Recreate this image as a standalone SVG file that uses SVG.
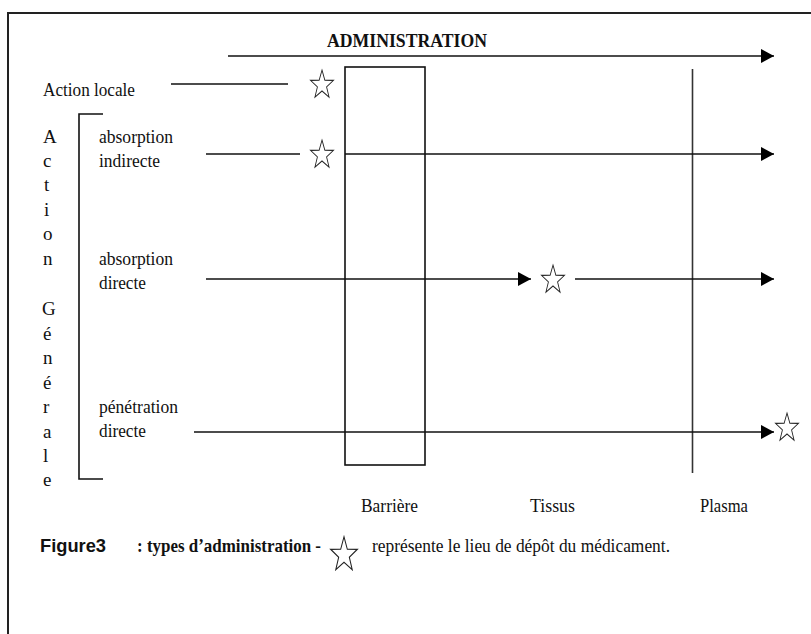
<svg xmlns="http://www.w3.org/2000/svg" width="811" height="634" viewBox="0 0 811 634">
<style>
.lbl{font-family:'Liberation Serif','Times New Roman','DejaVu Serif',serif;font-size:19px;fill:#111}
.bold{font-weight:bold}
.fig{font-family:'Liberation Sans',Arial,sans-serif;font-size:18px;font-weight:bold;fill:#111}
.ln{stroke:#111;stroke-width:1.6;fill:none}
.star{fill:#fff;stroke:#222;stroke-width:1;stroke-linejoin:miter}
</style>
<defs>
<marker id="arr" markerUnits="userSpaceOnUse" viewBox="0 0 13 14" refX="13" refY="7" markerWidth="13" markerHeight="14" orient="auto">
<path d="M0,0 L13,7 L0,14 z" fill="#000"/>
</marker>
<polygon id="st" points="0,-14 3.292,-4.53 13.315,-4.326 5.326,1.73 8.229,11.326 0,5.6 -8.229,11.326 -5.326,1.73 -13.315,-4.326 -3.292,-4.53"/>
</defs>
<rect width="811" height="634" fill="#fff"/>
<rect id="frame" x="8" y="13" width="830" height="660" fill="none" stroke="#222" stroke-width="2"/>

<g id="title">
<text class="lbl bold" x="327" y="47" textLength="160" lengthAdjust="spacingAndGlyphs">ADMINISTRATION</text>
</g>

<g id="barriere">
<rect class="ln" x="345" y="67" width="80" height="398"/>
<text class="lbl" x="361" y="512" textLength="57" lengthAdjust="spacingAndGlyphs">Barrière</text>
</g>
<g id="tissus">
<text class="lbl" x="530" y="512" textLength="45" lengthAdjust="spacingAndGlyphs">Tissus</text>
</g>
<g id="plasma">
<line x1="692.5" y1="69" x2="692.5" y2="473" stroke="#333" stroke-width="1.6"/>
<text class="lbl" x="700" y="512" textLength="48" lengthAdjust="spacingAndGlyphs">Plasma</text>
</g>

<g id="action-locale">
<text class="lbl" x="43" y="96" textLength="92" lengthAdjust="spacingAndGlyphs">Action locale</text>
</g>

<g id="action-generale">
<path class="ln" d="M103,114 H79 V479 H103"/>
<text class="lbl" x="43" y="143">A</text>
<text class="lbl" x="43" y="167">c</text>
<text class="lbl" x="44" y="191">t</text>
<text class="lbl" x="44" y="216">i</text>
<text class="lbl" x="43" y="240">o</text>
<text class="lbl" x="43" y="265">n</text>
<text class="lbl" x="42" y="315">G</text>
<text class="lbl" x="43" y="340">é</text>
<text class="lbl" x="43" y="364">n</text>
<text class="lbl" x="43" y="389">é</text>
<text class="lbl" x="43" y="413">r</text>
<text class="lbl" x="43" y="438">a</text>
<text class="lbl" x="43" y="462">l</text>
<text class="lbl" x="43" y="486">e</text>
</g>

<g id="absorption-indirecte">
<text class="lbl" x="99" y="143" textLength="74" lengthAdjust="spacingAndGlyphs">absorption</text>
<text class="lbl" x="99" y="167" textLength="61" lengthAdjust="spacingAndGlyphs">indirecte</text>
</g>
<g id="absorption-directe">
<text class="lbl" x="99" y="265" textLength="74" lengthAdjust="spacingAndGlyphs">absorption</text>
<text class="lbl" x="99" y="289" textLength="47" lengthAdjust="spacingAndGlyphs">directe</text>
</g>
<g id="penetration-directe">
<text class="lbl" x="99" y="413" textLength="79" lengthAdjust="spacingAndGlyphs">pénétration</text>
<text class="lbl" x="99" y="437" textLength="47" lengthAdjust="spacingAndGlyphs">directe</text>
</g>

<g id="stars">
<use href="#st" class="star" transform="translate(322,85) scale(0.86,1.07)"/>
<use href="#st" class="star" transform="translate(322,155) scale(0.86,1.07)"/>
<use href="#st" class="star" transform="translate(553,280) scale(0.86,1.07)"/>
<use href="#st" class="star" transform="translate(787,428) scale(0.86,1.07)"/>
</g>

<g id="connectors">
<line class="ln" x1="228" y1="56" x2="774" y2="56" marker-end="url(#arr)"/>
<line class="ln" x1="171" y1="84" x2="288" y2="84"/>
<line class="ln" x1="206" y1="154" x2="300" y2="154"/>
<line class="ln" x1="345" y1="154" x2="774" y2="154" marker-end="url(#arr)"/>
<line class="ln" x1="206" y1="279" x2="531" y2="279" marker-end="url(#arr)"/>
<line class="ln" x1="575" y1="279" x2="774" y2="279" marker-end="url(#arr)"/>
<line class="ln" x1="194" y1="432" x2="774" y2="432" marker-end="url(#arr)"/>
</g>

<g id="caption">
<text class="fig" x="40" y="552" textLength="66" lengthAdjust="spacingAndGlyphs">Figure3</text>
<text class="lbl bold" x="137" y="552" textLength="184" lengthAdjust="spacingAndGlyphs">: types d’administration -</text>
<use href="#st" class="star" transform="translate(344,555) scale(1.0,1.3)"/>
<text class="lbl" x="372" y="552" textLength="298" lengthAdjust="spacingAndGlyphs">représente le lieu de dépôt du médicament.</text>
</g>
</svg>
